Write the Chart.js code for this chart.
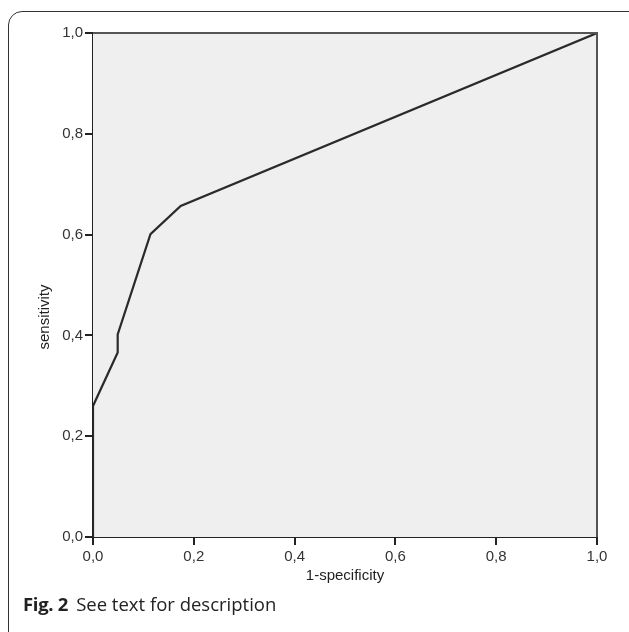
<!DOCTYPE html>
<html>
<head>
<meta charset="utf-8">
<script src="https://cdn.jsdelivr.net/npm/chart.js@4.4.1/dist/chart.umd.min.js"></script>
<style>
  html, body { margin: 0; padding: 0; background: #fff; overflow: hidden; }
  #page { position: relative; width: 629px; height: 632px; overflow: hidden; }
  #frame {
    position: absolute; left: 8px; top: 11px; width: 640px; height: 640px;
    border: 1.5px solid #333; border-radius: 14px; box-sizing: border-box;
  }
  #roc { position: absolute; left: 0; top: 0; }
  #caption {
    position: absolute; left: 23px; top: 591px;
    font-family: "Open Sans", sans-serif; font-size: 18.5px; color: #222;
  }
  #caption b { font-weight: 700; margin-right: 8px; letter-spacing: -0.3px; }
</style>
</head>
<body>
<div id="page">
  <div id="frame"></div>
  <canvas id="roc" width="629" height="632"></canvas>
  <div id="caption"><b>Fig. 2</b>See text for description</div>
</div>
<script>
// ROC curve points
const fpr = [0, 0, 0.049, 0.049, 0.114, 0.174, 1];
const tpr = [0, 0.26, 0.366, 0.402, 0.601, 0.657, 1];
const tickValues = [0, 0.2, 0.4, 0.6, 0.8, 1];
const xTitle = '1-specificity';
const yTitle = 'sensitivity';

const comma = v => Number(v).toFixed(1).replace('.', ',');
const labelFont = { family: '"Liberation Sans", Arial, sans-serif', size: 15 };

// gray plot area with a frame, plus the two axis titles
const plotDecor = {
  id: 'plotDecor',
  beforeDatasetsDraw(chart) {
    const { ctx, chartArea: a } = chart;
    ctx.save();
    ctx.fillStyle = '#efefef';
    ctx.fillRect(a.left, a.top, a.right - a.left, a.bottom - a.top);
    ctx.restore();
  },
  afterDraw(chart) {
    const { ctx, chartArea: a } = chart;
    ctx.save();
    ctx.strokeStyle = '#555';
    ctx.lineWidth = 2;
    ctx.beginPath();
    ctx.moveTo(a.left, a.top);
    ctx.lineTo(a.right, a.top);
    ctx.lineTo(a.right, a.bottom);
    ctx.stroke();

    ctx.fillStyle = '#222';
    ctx.font = '15px "Liberation Sans", Arial, sans-serif';
    ctx.textAlign = 'center';
    ctx.textBaseline = 'middle';
    ctx.fillText(xTitle, (a.left + a.right) / 2, 576);
    ctx.translate(45, 317);
    ctx.rotate(-Math.PI / 2);
    ctx.fillText(yTitle, 0, 0);
    ctx.restore();
  }
};

new Chart(document.getElementById('roc'), {
  type: 'line',
  data: {
    datasets: [{
      data: fpr.map((x, i) => ({ x: x, y: tpr[i] })),
      borderColor: '#2a2a2a',
      borderWidth: 2.2,
      pointRadius: 0,
      tension: 0,
      fill: false
    }]
  },
  options: {
    responsive: false,
    animation: false,
    layout: { padding: { top: 33, right: 32, left: 0, bottom: 0 } },
    plugins: { legend: { display: false }, tooltip: { enabled: false } },
    scales: {
      x: {
        type: 'linear',
        min: 0,
        max: 1,
        afterFit: s => { s.height = 95; },
        afterBuildTicks: s => { s.ticks = tickValues.map(v => ({ value: v })); },
        ticks: { callback: comma, color: '#333', padding: 3, maxRotation: 0, font: labelFont },
        grid: { drawOnChartArea: false, tickLength: 8, color: '#222', lineWidth: 2 },
        border: { color: '#222', width: 2 }
      },
      y: {
        type: 'linear',
        min: 0,
        max: 1,
        afterFit: s => { s.width = 93; },
        afterBuildTicks: s => { s.ticks = tickValues.map(v => ({ value: v })); },
        ticks: { callback: comma, color: '#333', padding: 2, font: labelFont },
        grid: { drawOnChartArea: false, tickLength: 8, color: '#222', lineWidth: 2 },
        border: { color: '#222', width: 2 }
      }
    }
  },
  plugins: [plotDecor]
});
</script>
</body>
</html>
